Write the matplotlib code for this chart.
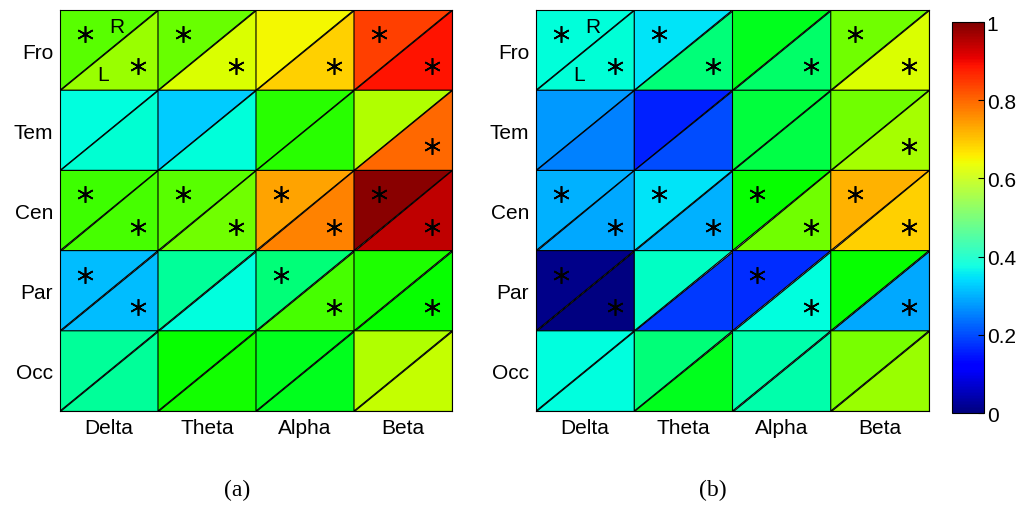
import numpy as np
import matplotlib
matplotlib.use("Agg")
import matplotlib.pyplot as plt
from matplotlib.collections import PolyCollection
from matplotlib.colors import ListedColormap, Normalize, rgb_to_hsv, hsv_to_rgb
from matplotlib.cm import ScalarMappable

plt.rcParams['font.family'] = ['Liberation Sans', 'DejaVu Sans']

regions = ["Fro", "Tem", "Cen", "Par", "Occ"]
bands = ["Delta", "Theta", "Alpha", "Beta"]

# upper-left triangle = right hemisphere, lower-right = left hemisphere
a_right = [[0.535, 0.54, 0.645, 0.84],
           [0.375, 0.325, 0.515, 0.583],
           [0.52, 0.535, 0.735, 0.99],
           [0.31, 0.43, 0.45, 0.51],
           [0.43, 0.50, 0.49, 0.585]]
a_left = [[0.57, 0.62, 0.69, 0.89],
          [0.39, 0.38, 0.515, 0.80],
          [0.525, 0.545, 0.77, 0.945],
          [0.31, 0.375, 0.525, 0.50],
          [0.43, 0.505, 0.49, 0.60]]
a_star_right = [[1, 1, 0, 1],
                [0, 0, 0, 0],
                [1, 1, 1, 1],
                [1, 0, 1, 0],
                [0, 0, 0, 0]]
a_star_left = [[1, 1, 1, 1],
               [0, 0, 0, 1],
               [1, 1, 1, 1],
               [1, 0, 1, 1],
               [0, 0, 0, 0]]

b_right = [[0.38, 0.35, 0.49, 0.545],
           [0.275, 0.16, 0.48, 0.545],
           [0.30, 0.35, 0.50, 0.72],
           [0.01, 0.40, 0.17, 0.50],
           [0.375, 0.45, 0.42, 0.55]]
b_left = [[0.385, 0.45, 0.46, 0.62],
          [0.25, 0.20, 0.475, 0.575],
          [0.29, 0.30, 0.545, 0.69],
          [0.0, 0.18, 0.375, 0.29],
          [0.375, 0.49, 0.42, 0.57]]
b_star_right = [[1, 1, 0, 1],
                [0, 0, 0, 0],
                [1, 1, 1, 1],
                [1, 0, 1, 0],
                [0, 0, 0, 0]]
b_star_left = [[1, 1, 1, 1],
               [0, 0, 0, 1],
               [1, 1, 1, 1],
               [1, 0, 1, 1],
               [0, 0, 0, 0]]

cbar_ticks = [0, 0.2, 0.4, 0.6, 0.8, 1]
cbar_labels = ["0", "0.2", "0.4", "0.6", "0.8", "1"]

# cells in the figure look like a fully saturated jet
_hsv = rgb_to_hsv(plt.get_cmap('jet')(np.linspace(0, 1, 256))[:, :3])
_hsv[:, 1] = 1.0
cell_cmap = ListedColormap(hsv_to_rgb(_hsv))


def draw_panel(ax, right, left, star_r, star_l):
    polys, vals = [], []
    for i in range(len(regions)):
        for j in range(len(bands)):
            polys.append([(j, i), (j + 1, i), (j, i + 1)])
            vals.append(right[i][j])
            polys.append([(j + 1, i), (j + 1, i + 1), (j, i + 1)])
            vals.append(left[i][j])
    pc = PolyCollection(polys, array=np.array(vals), cmap=cell_cmap,
                        edgecolors='black', linewidths=0.8)
    pc.set_clim(0, 1)
    ax.add_collection(pc)

    for i in range(len(regions)):
        for j in range(len(bands)):
            if star_r[i][j]:
                ax.plot(j + 0.25, i + 0.3, marker=(6, 2, 0), color='black',
                        markersize=12, markeredgewidth=1.2)
            if star_l[i][j]:
                ax.plot(j + 0.8, i + 0.7, marker=(6, 2, 0), color='black',
                        markersize=12, markeredgewidth=1.2)

    ax.text(0.58, 0.21, "R", ha='center', va='center', fontsize=15)
    ax.text(0.44, 0.8, "L", ha='center', va='center', fontsize=15)

    ax.set_xlim(0, 4)
    ax.set_ylim(5, 0)
    ax.set_xticks(np.arange(len(bands)) + 0.5)
    ax.set_xticklabels(bands, fontsize=15)
    ax.set_yticks(np.arange(len(regions)) + 0.5)
    ax.set_yticklabels(regions, fontsize=15)
    ax.tick_params(length=0, pad=5)
    for s in ax.spines.values():
        s.set_linewidth(0.8)
    return pc


fig = plt.figure(figsize=(10.24, 5.06), dpi=100)
ax_a = fig.add_axes([60 / 1024, 1 - 412 / 506, 392 / 1024, 401 / 506])
ax_b = fig.add_axes([536 / 1024, 1 - 412 / 506, 393 / 1024, 401 / 506])
cax = fig.add_axes([952 / 1024, 1 - 414 / 506, 32 / 1024, 391 / 506])

draw_panel(ax_a, a_right, a_left, a_star_right, a_star_left)
draw_panel(ax_b, b_right, b_left, b_star_right, b_star_left)

cb = fig.colorbar(ScalarMappable(norm=Normalize(0, 1), cmap='jet'), cax=cax,
                  ticks=cbar_ticks)
cb.ax.set_yticklabels(cbar_labels, fontsize=15)
cb.ax.tick_params(direction='in', length=4, width=0.8, pad=2)
cb.outline.set_linewidth(0.8)

fig.text(237 / 1024, 1 - 490 / 506, "(a)", ha='center', va='center',
         fontsize=17, family='Liberation Serif')
fig.text(713 / 1024, 1 - 490 / 506, "(b)", ha='center', va='center',
         fontsize=17, family='Liberation Serif')

fig.savefig("out.png", dpi=100)
